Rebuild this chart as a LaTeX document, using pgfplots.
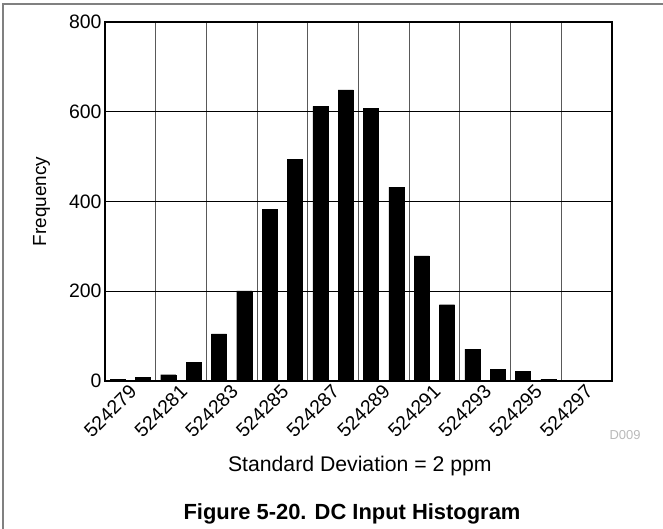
\documentclass[border=0pt]{standalone}
\usepackage{fontspec}
\setmainfont{Liberation Sans}
\usepackage{pgfplots}
\pgfplotsset{compat=1.18}
\begin{document}
\begin{tikzpicture}
\path[use as bounding box] (0bp,0bp) rectangle (663bp,529bp);
\draw[gray, line width=1.5bp] (3bp,0bp) -- (3bp,525bp) -- (663bp,525bp);
\begin{axis}[
  at={(105bp,148bp)}, anchor=south west,
  scale only axis, width=506.7bp, height=359bp,
  xmin=-0.5, xmax=19.5, ymin=0, ymax=800,
  ytick={0,200,400,600,800},
  xtick={0,2,4,6,8,10,12,14,16,18},
  xticklabels={524279,524281,524283,524285,524287,524289,524291,524293,524295,524297},
  minor xtick={1.5,3.5,5.5,7.5,9.5,11.5,13.5,15.5,17.5},
  xminorgrids=true, ymajorgrids=true, xmajorgrids=false,
  minor grid style={gray!70!black, line width=0.9bp},
  major grid style={black, line width=0.9bp},
  major tick length=0pt, minor tick length=0pt,
  axis line style={line width=2bp},
  /pgf/number format/assume math mode=true,
  ticklabel style={font=\fontsize{19.5}{22}\selectfont},
  xticklabel style={rotate=45, anchor=north east, inner sep=0pt, xshift=6bp, yshift=-9bp},
  yticklabel style={/pgf/number format/1000 sep={}},
  ylabel={Frequency},
  ylabel style={at={(axis description cs:-0.125,0.5)}, anchor=center, font=\fontsize{19}{22}\selectfont},
  xlabel={Standard Deviation = 2 ppm},
  xlabel style={at={(axis description cs:0.503,-0.236)}, anchor=center, font=\fontsize{21.3}{24}\selectfont},
  clip=false,
]
\addplot[ybar, bar width=0.6, fill=black, draw=black] coordinates {
(0,3) (1,8) (2,14) (3,42) (4,105) (5,201) (6,383) (7,494) (8,612) (9,649)
(10,608) (11,432) (12,279) (13,170) (14,71) (15,26) (16,22) (17,4) (18,0) (19,0)
};
\end{axis}
\node[text=gray!55, font=\fontsize{13}{15}\selectfont] at (625bp,94bp) {D009};
\node[font=\fontsize{22}{26}\selectfont\bfseries] at (352bp,15bp) {Figure 5-20. DC Input Histogram};
\end{tikzpicture}
\end{document}
